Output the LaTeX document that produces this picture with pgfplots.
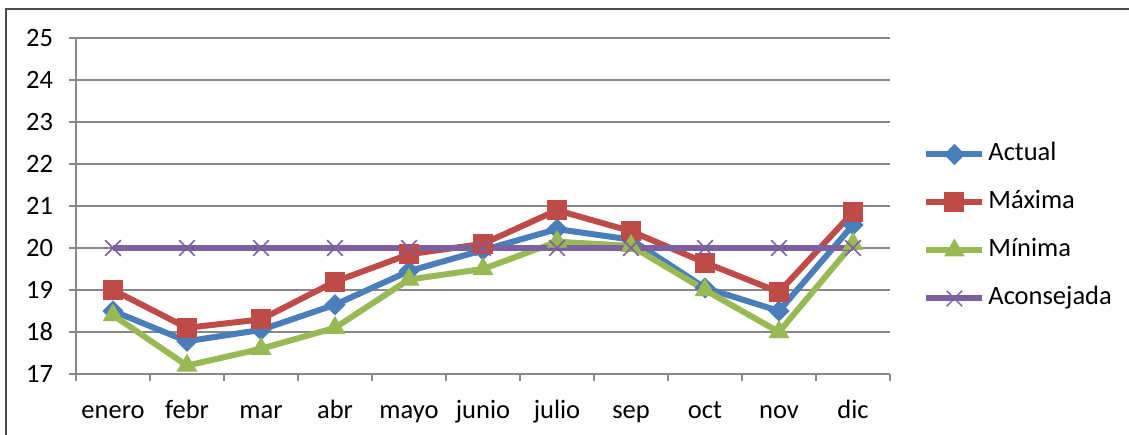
\documentclass[border=0pt]{standalone}
\usepackage{pgfplots}
\pgfplotsset{compat=1.18}
\usepackage{fontspec}
\setmainfont{Carlito}
\definecolor{cA}{HTML}{4A7EBB}
\definecolor{cM}{HTML}{BE4B48}
\definecolor{cN}{HTML}{98B954}
\definecolor{cC}{HTML}{7D60A0}
\definecolor{gridc}{HTML}{888888}
\begin{document}
\fontsize{26.5pt}{31pt}\selectfont
\begin{tikzpicture}[x=1pt,y=1pt]
\useasboundingbox (0,0) rectangle (1129,434);
\draw[black!70, line width=1.5pt] (6,-20) -- (6,425) -- (1150,425);
\begin{axis}[
 at={(76pt,60pt)}, anchor=south west,
 scale only axis, width=814pt, height=336pt,
 xmin=-0.5, xmax=10.5, ymin=17, ymax=25,
 ytick={17,...,25},
 xtick={0,...,10},
 xticklabels={enero,febr,mar,abr,mayo,junio,julio,sep,oct,nov,dic},
 minor xtick={-0.5,0.5,...,10.5},
 major x tick style={draw=none},
 minor x tick style={draw=gridc, line width=1.3pt},
 major y tick style={draw=gridc, line width=1.3pt},
 tick align=outside,
 major tick length=7pt, minor tick length=7pt,
 axis x line*=bottom, axis y line*=left,
 axis line style={draw=gridc, line width=1.3pt},
 ymajorgrids, grid style={draw=gridc, line width=1.3pt},
 /pgf/number format/assume math mode=true,
 tick label style={font=\fontsize{26.5pt}{31pt}\selectfont},
 xticklabel style={anchor=north, inner sep=0pt, text height=18pt, text depth=6pt, yshift=-19pt},
 yticklabel style={xshift=-7pt},
 legend style={draw=none, fill=none, at={(1.0371,0.439)}, anchor=west,
   font=\fontsize{26.5pt}{31pt}\selectfont,
   nodes={inner sep=0pt, text height=18pt, text depth=6pt},
   row sep=24pt, /tikz/every odd column/.append style={column sep=3pt}},
 legend cell align=left,
 legend image code/.code={\draw[mark repeat=2,mark phase=2] plot coordinates {(0pt,0pt) (28pt,0pt) (56pt,0pt)};},
 every axis plot/.append style={line width=6pt},
]
\addplot[cA, mark=square*, mark size=7pt, mark options={rotate=45, line width=1pt, solid}]
 coordinates {(0,18.5) (1,17.78) (2,18.05) (3,18.65) (4,19.45) (5,19.95) (6,20.45) (7,20.2) (8,19.05) (9,18.5) (10,20.55)};
\addlegendentry{Actual}
\addplot[cM, mark=square*, mark size=9.5pt, mark options={line width=1pt, solid}]
 coordinates {(0,19.0) (1,18.1) (2,18.3) (3,19.2) (4,19.85) (5,20.1) (6,20.9) (7,20.4) (8,19.65) (9,18.95) (10,20.85)};
\addlegendentry{Máxima}
\addplot[cN, mark=triangle*, mark size=11pt, mark options={line width=1pt, solid}]
 coordinates {(0,18.4) (1,17.2) (2,17.6) (3,18.1) (4,19.25) (5,19.5) (6,20.15) (7,20.05) (8,19.0) (9,18.0) (10,20.1)};
\addlegendentry{Mínima}
\addplot[cC, mark=x, mark size=11pt, mark options={line width=1.5pt, solid}]
 coordinates {(0,20) (1,20) (2,20) (3,20) (4,20) (5,20) (6,20) (7,20) (8,20) (9,20) (10,20)};
\addlegendentry{Aconsejada}
\end{axis}
\end{tikzpicture}
\end{document}
